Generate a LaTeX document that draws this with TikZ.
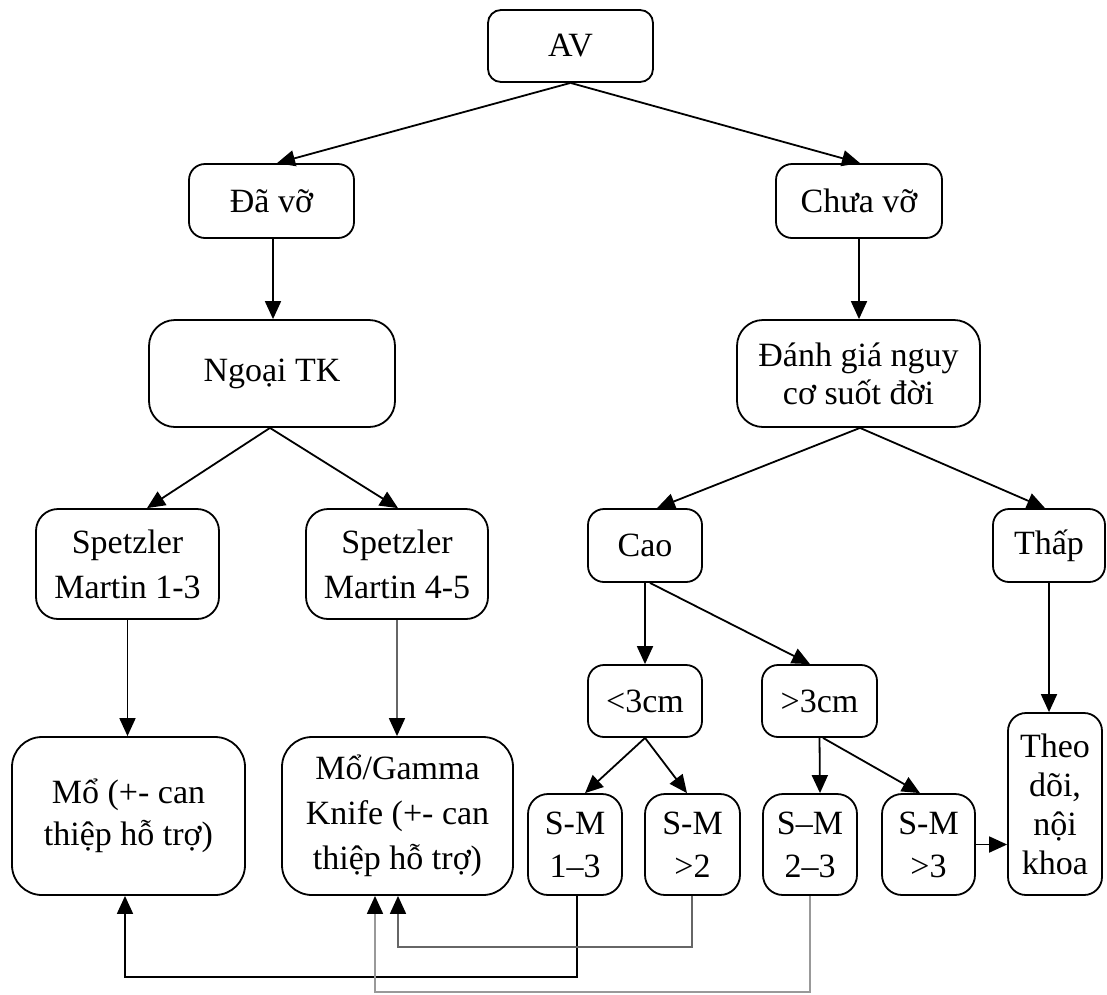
\documentclass[tikz,border=0pt]{standalone}
\usepackage{fontspec}
\setmainfont{Liberation Serif}
\usetikzlibrary{arrows.meta}
\begin{document}
\begin{tikzpicture}[x=1pt,y=-1pt,
  box/.style={draw, line width=1.8pt, rounded corners=#1, inner sep=0pt, align=center,
    font=\fontsize{34}{42}\selectfont},
  box/.default=16pt,
  arr/.style={line width=1.8pt, -{Triangle[length=18pt,width=16pt,color=black]}},
  lnk/.style={arr, black!60},
  lnklight/.style={arr, black!40}]
\useasboundingbox (0,0) rectangle (1107,994);
\fill[white] (0,0) rectangle (1107,994);

% top level
\node[box=13pt, minimum width=165pt, minimum height=72pt] (av) at (570.5,46) {AV};
\node[box=16pt, minimum width=165pt, minimum height=74pt] (davo) at (271.5,201) {Đã vỡ};
\node[box=16pt, minimum width=166pt, minimum height=74pt] (chuavo) at (859,201) {Chưa vỡ};

% second level
\node[box=26pt, minimum width=246pt, minimum height=107pt] (ngoai) at (272,373.5) {Ngoại TK};
\node[box=26pt, minimum width=243pt, minimum height=107pt, font=\fontsize{34}{38}\selectfont] (danhgia) at (858.5,373.5) {Đánh giá nguy\\cơ suốt đời};

% ruptured branch
\node[box=22pt, minimum width=183pt, minimum height=110pt, font=\fontsize{34}{45}\selectfont] (sm13) at (127.5,564) {Spetzler\\Martin 1-3};
\node[box=22pt, minimum width=182pt, minimum height=110pt, font=\fontsize{34}{45}\selectfont] (sm45) at (397,564) {Spetzler\\Martin 4-5};
\node[box=30pt, minimum width=233pt, minimum height=158pt] (mo) at (128.5,816) {Mổ (+- can\\thiệp hỗ trợ)};
\node[box=30pt, minimum width=231pt, minimum height=158pt, font=\fontsize{34}{45}\selectfont] (gamma) at (397.5,816) {Mổ/Gamma\\Knife (+- can\\thiệp hỗ trợ)};

% unruptured branch
\node[box=16pt, minimum width=114pt, minimum height=73pt] (cao) at (645,545.5) {Cao};
\node[box=16pt, minimum width=112pt, minimum height=73pt] (thap) at (1049,545.5) {Thấp};
\node[box=16pt, minimum width=114pt, minimum height=72pt] (lt3) at (645,701) {<3cm};
\node[box=16pt, minimum width=115pt, minimum height=72pt] (gt3) at (819.5,701) {>3cm};
\node[box=20pt, minimum width=94pt, minimum height=101pt, font=\fontsize{34}{43}\selectfont] (sma) at (575,844.5) {S-M\\1–3};
\node[box=20pt, minimum width=95pt, minimum height=101pt, font=\fontsize{34}{43}\selectfont] (smb) at (692.5,844.5) {S-M\\>2};
\node[box=20pt, minimum width=94pt, minimum height=101pt, font=\fontsize{34}{43}\selectfont] (smc) at (810,844.5) {S–M\\2–3};
\node[box=20pt, minimum width=93pt, minimum height=101pt, font=\fontsize{34}{43}\selectfont] (smd) at (928.5,844.5) {S-M\\>3};
\node[box=18pt, minimum width=94pt, minimum height=182pt, font=\fontsize{34}{39}\selectfont] (theo) at (1055,804) {Theo\\dõi,\\nội\\khoa};

% connectors, top part
\draw[arr] (av.south) -- ([xshift=5.5pt]davo.north);
\draw[arr] (av.south) -- ([xshift=1pt]chuavo.north);
\draw[arr] ([xshift=1.5pt]davo.south) -- ([xshift=1pt]ngoai.north);
\draw[arr] (chuavo.south) -- ([xshift=0.5pt]danhgia.north);
\draw[arr] ([xshift=-2pt]ngoai.south) -- ([xshift=19.5pt]sm13.north);
\draw[arr] ([xshift=-2pt]ngoai.south) -- ([xshift=1pt]sm45.north);
\draw[arr] ([xshift=1.5pt]danhgia.south) -- ([xshift=12pt]cao.north);
\draw[arr] ([xshift=1.5pt]danhgia.south) -- ([xshift=-4pt]thap.north);

% connectors, lower part
\draw[arr] (sm13.south) -- (mo.north -| sm13.south);
\draw[lnk] (sm45.south) -- (gamma.north -| sm45.south);
\draw[arr] (cao.south) -- (lt3.north);
\draw[arr] ([xshift=5pt]cao.south) -- ([xshift=-9.5pt]gt3.north);
\draw[arr] (lt3.south) -- ([xshift=10pt]sma.north);
\draw[arr] (lt3.south) -- ([xshift=-5.5pt]smb.north);
\draw[arr] (gt3.south) -- ([xshift=10pt]smc.north);
\draw[arr] ([xshift=3.5pt]gt3.south) -- ([xshift=-8.5pt]smd.north);
\draw[arr] (smd.east) -- (theo.west |- smd.east);
\draw[arr] (thap.south) -- (theo.north -| thap.south);

% return routes to the treatment boxes
\coordinate (ra) at (577,977);
\coordinate (rb) at (692,947);
\coordinate (rc) at (810,992);
\draw[arr] ([xshift=2pt]sma.south) |- (ra) -| ([xshift=-3.5pt]mo.south);
\draw[lnk] ([xshift=-0.5pt]smb.south) |- (rb) -| ([xshift=0.5pt]gamma.south);
\draw[lnklight] (smc.south) |- (rc) -| ([xshift=-22.5pt]gamma.south);
\end{tikzpicture}
\end{document}
